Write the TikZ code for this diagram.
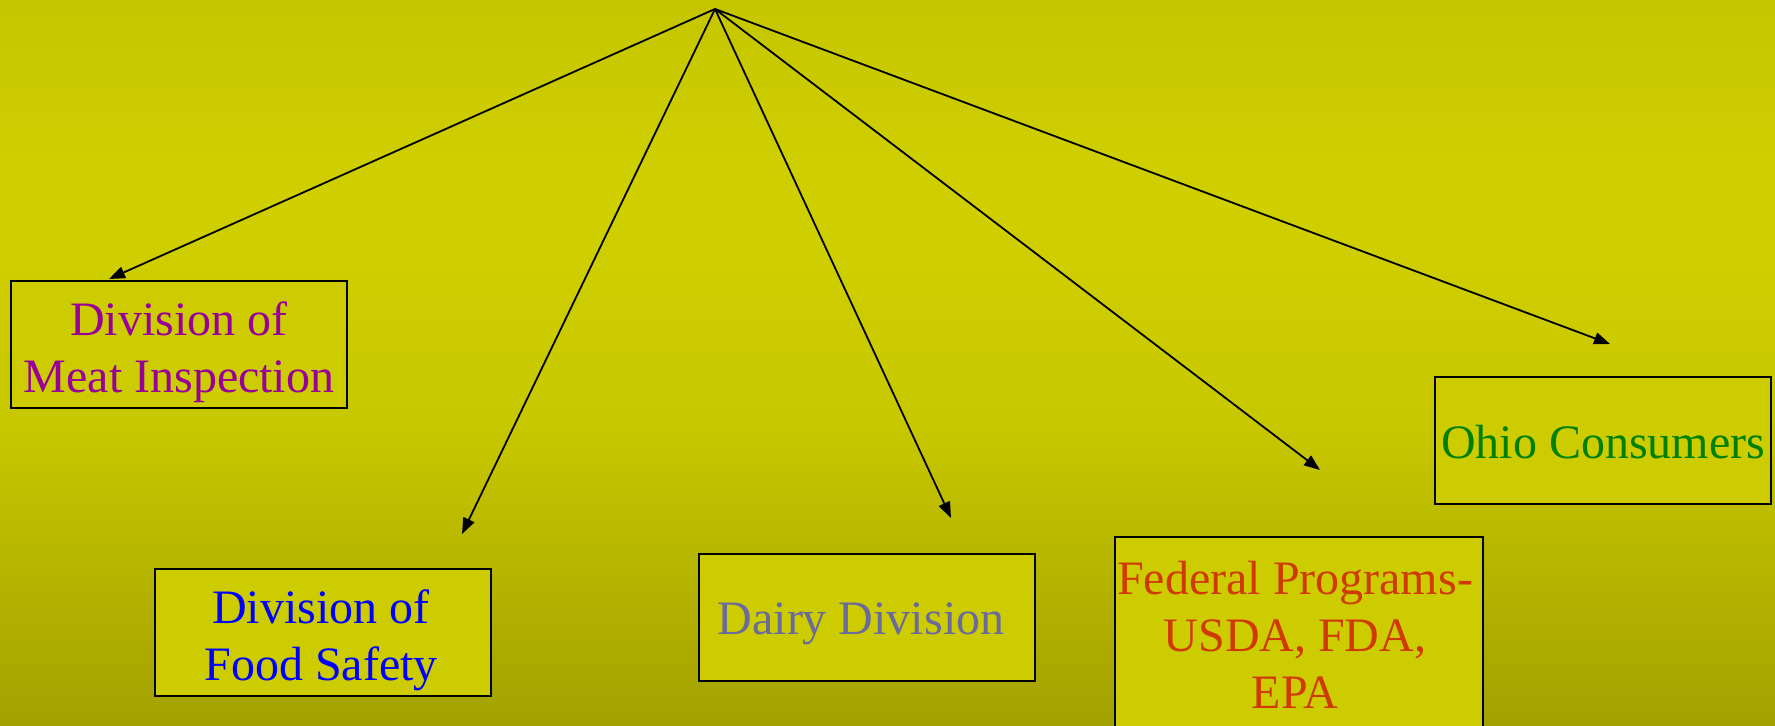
\documentclass[tikz,border=0pt]{standalone}
\usepackage{fontspec}
\setmainfont{Liberation Serif}
\usepackage{xcolor}
\usetikzlibrary{arrows.meta,positioning}
\definecolor{bgtop}{HTML}{C6C600}
\definecolor{bgmid}{HTML}{D0D000}
\definecolor{bglow}{HTML}{C8C800}
\definecolor{bgbot}{HTML}{A3A100}
\definecolor{boxfill}{HTML}{CCCC00}
\definecolor{meatcol}{HTML}{990099}
\definecolor{foodcol}{HTML}{0000FF}
\definecolor{dairycol}{HTML}{6A6A9E}
\definecolor{fedcol}{HTML}{D03A00}
\definecolor{ohiocol}{HTML}{008000}

\begin{document}
\begin{tikzpicture}[
    x=0.5pt,y=-0.5pt,
    box/.style={draw,line width=1pt,fill=boxfill,inner sep=0pt,minimum width=168pt,minimum height=63.5pt},
    boxtext/.style={align=center,inner sep=0pt,font=\fontsize{24}{28.5}\selectfont},
    arrow/.style={-{Triangle[length=8pt,width=6pt]},line width=0.9pt}
  ]
    \useasboundingbox (0,0) rectangle (1775,726);
    % background
    \shade[top color=bgtop,bottom color=bgmid] (0,0) rectangle (1775,200);
    \shade[top color=bgmid,bottom color=bglow] (0,200) rectangle (1775,420);
    \shade[top color=bglow,bottom color=bgbot] (0,420) rectangle (1775,726);

    \node[box] (meat) at (179,344.5) {};
    \node[box] (food) at (323,632.5) {};
    \node[box] (dairy) at (867,617) {};
    \node[box,minimum width=184pt,minimum height=105pt] (fed) at (1299,642) {};
    \node[box] (ohio) at (1603,440.5) {};

    \node[boxtext,text=meatcol] (meattext) at ([shift={(0,8)}]meat.center) {Division of\\Meat Inspection};
    \node[boxtext,text=foodcol] (foodtext) at ([shift={(-2,8)}]food.center) {Division of\\Food Safety};
    \node[boxtext,text=dairycol] (dairytext) at ([shift={(-6,7)}]dairy.center) {Dairy Division};
    \node[boxtext,text=fedcol] (fedtext) at ([shift={(-4,-7)}]fed.center) {Federal Programs-\\USDA, FDA,\\EPA};
    \node[boxtext,text=ohiocol] (ohiotext) at ([shift={(0,2)}]ohio.center) {Ohio Consumers};

    \coordinate (top) at (715,9);
    \coordinate (meattip) at (109,279);
    \coordinate (foodtip) at (462,534);
    \coordinate (dairytip) at (951,518);
    \coordinate (fedtip) at (1320,470);
    \coordinate (ohiotip) at (1610,344);

    \draw[arrow] (top) -- (meattip);
    \draw[arrow] (top) -- (foodtip);
    \draw[arrow] (top) -- (dairytip);
    \draw[arrow] (top) -- (fedtip);
    \draw[arrow] (top) -- (ohiotip);
  \end{tikzpicture}
\end{document}
